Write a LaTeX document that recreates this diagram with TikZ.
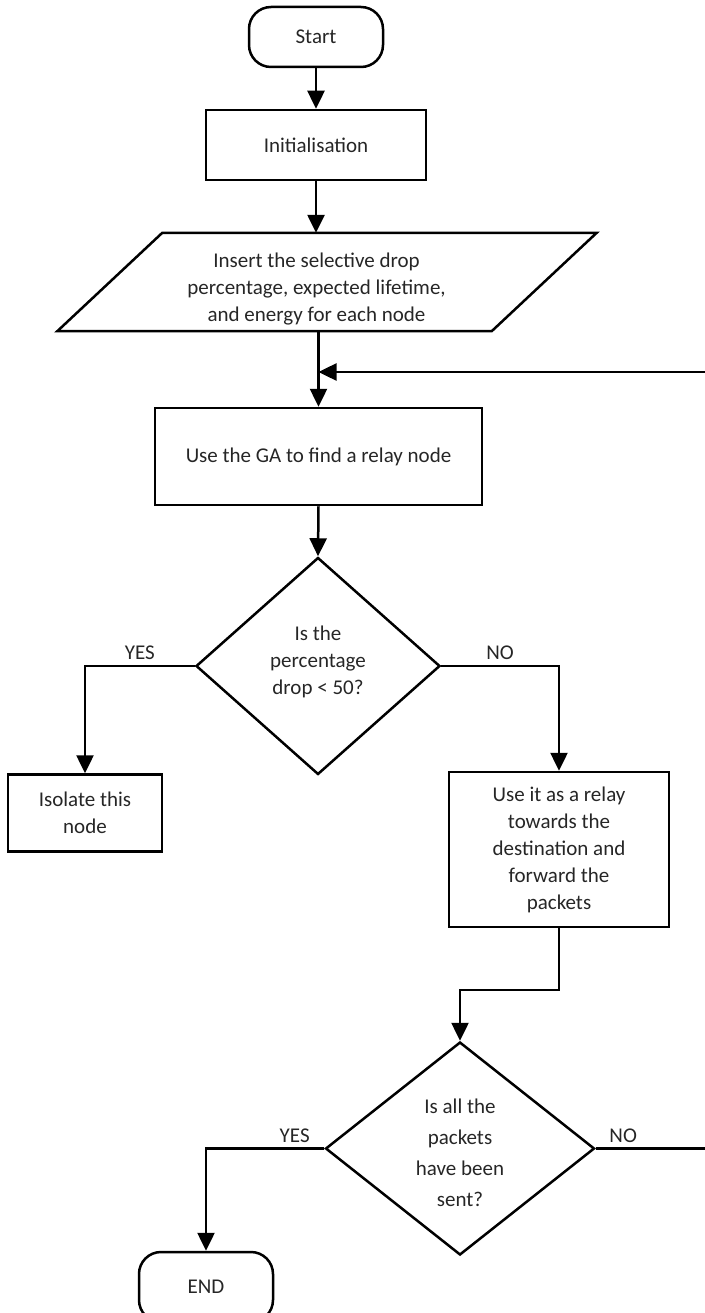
\documentclass[tikz,border=0pt]{standalone}
\usepackage{fontspec}
\setmainfont{Carlito}
\usetikzlibrary{shapes.geometric,arrows.meta}
\newcommand{\offtext}[4]{\raisebox{#2}[1pt][1pt]{\makebox[0pt]{\hspace*{#1}\renewcommand{\arraystretch}{#3}\begin{tabular}{@{}c@{}}#4\end{tabular}}}}
\begin{document}
\begin{tikzpicture}[x=1pt,y=-1pt,
  every node/.style={font=\fontsize{21}{27}\selectfont, text=black!85},
  base/.style={draw=black, line width=2.5pt, inner sep=0pt, align=center},
  outline/.style={draw=black, line width=2.5pt},
  terminal/.style={base, rectangle, rounded corners=22pt, minimum width=134pt},
  process/.style={base, rectangle},
  decision/.style={base, diamond},
  flow/.style={line width=2.5pt, -{Triangle[width=17pt,length=18pt]}},
  lab/.style={above, inner sep=5pt}
]
\useasboundingbox (0,0) rectangle (704,1313);

\node[terminal, minimum height=60pt] (start) at (316,37) {Start};
\node[process, minimum width=220pt, minimum height=70pt] (init) at (316,145) {Initialisation};
\node[inner sep=0pt, minimum width=434pt, minimum height=98pt] (para) at (327,282)
  {\offtext{-21pt}{-12.25pt}{1}{Insert the selective drop\\percentage, expected lifetime,\\and energy for each node}};
\draw[outline] ([xshift=52.5pt]para.north west) -- ([xshift=52.5pt]para.north east)
  -- ([xshift=-52.5pt]para.south east) -- ([xshift=-52.5pt]para.south west) -- cycle;
\node[process, minimum width=327pt, minimum height=97pt] (ga) at (318.5,456.5) {Use the GA to find a relay node};
\node[decision, minimum width=244pt, minimum height=217pt] (d1) at (318,666)
  {\offtext{0pt}{-1.25pt}{1}{Is the\\percentage\\drop < 50?}};
\node[process, minimum width=154pt, minimum height=77pt] (iso) at (85,813) {Isolate this\\node};
\node[process, minimum width=220pt, minimum height=155pt] (relay) at (559,849.5) {Use it as a relay\\towards the\\destination and\\forward the\\packets};
\node[decision, minimum width=269pt, minimum height=213pt] (d2) at (460,1148.5)
  {\offtext{0pt}{-10.25pt}{1.15}{Is all the\\packets\\have been\\sent?}};
\node[terminal, minimum height=70pt] (end) at (206,1287) {END};

\coordinate (merge) at (318.5,372);
\coordinate (joint) at (460,990);
\coordinate (rb) at (710,1148.5);
\coordinate (rt) at (710,372);

\draw[flow] (start.south) -- (start.south |- init.north);
\draw[flow] (init.south) -- (init.south |- para.north);
\draw[flow] (ga.north |- para.south) -- (ga.north);
\draw[flow] (ga.south) -- (d1.north);
\draw[flow] (d1.west) -| node[lab, pos=0.25] {YES} (iso.north);
\draw[flow] (d1.east) -| node[lab, pos=0.25] {NO} (relay.north);
\draw[flow] (relay.south) |- (joint) -- (d2.north);
\draw[flow] (d2.west) -| node[lab, pos=0.125] {YES} (end.north);
\draw[flow] (d2.east) -- node[lab, pos=0.24] {NO} (rb) -- (rt) -- (merge);
\end{tikzpicture}
\end{document}
